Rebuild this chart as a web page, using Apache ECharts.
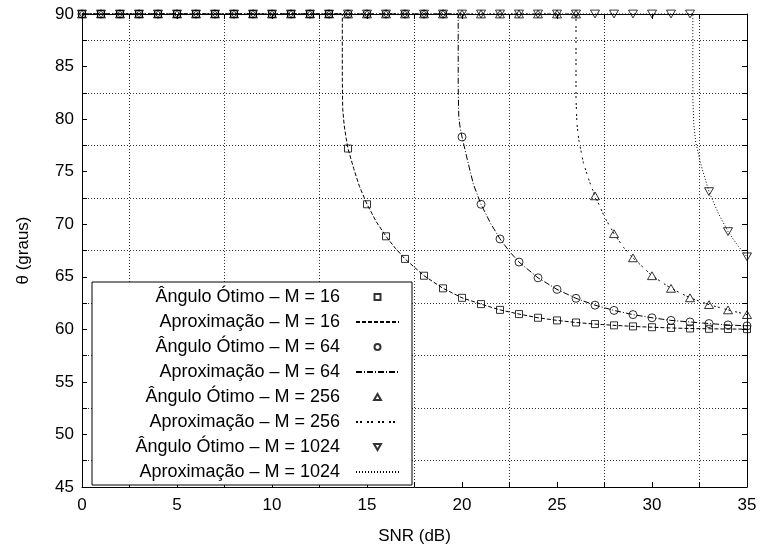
<!DOCTYPE html>
<html>
<head>
<meta charset="utf-8">
<script src="https://cdn.jsdelivr.net/npm/echarts@6/dist/echarts.min.js"></script>
<style>
  html, body { margin: 0; padding: 0; background: #fff; }
  #chart { width: 762px; height: 550px; }
</style>
</head>
<body>
<div id="chart"></div>
<script>
// SNR points of the optimal-angle markers (dB)
var snr = [0, 1, 2, 3, 4, 5, 6, 7, 8, 9, 10, 11, 12, 13, 14, 15, 16, 17,
  18, 19, 20, 21, 22, 23, 24, 25, 26, 27, 28, 29, 30, 31, 32, 33, 34, 35];

// optimal angle (graus), one value per snr point
var otimo16 = [90, 90, 90, 90, 90, 90, 90, 90, 90, 90, 90, 90, 90, 90,
  77.2, 71.9, 68.85, 66.7, 65.1, 63.9, 63.0, 62.4, 61.85, 61.45, 61.1, 60.85,
  60.65, 60.5, 60.38, 60.28, 60.2, 60.13, 60.08, 60.05, 60.03, 60.02];
var otimo64 = [90, 90, 90, 90, 90, 90, 90, 90, 90, 90, 90, 90, 90, 90,
  90, 90, 90, 90, 90, 90,
  78.3, 71.9, 68.6, 66.4, 64.9, 63.8, 62.95, 62.3, 61.8, 61.4, 61.1, 60.85,
  60.7, 60.55, 60.42, 60.33];
var otimo256 = [90, 90, 90, 90, 90, 90, 90, 90, 90, 90, 90, 90, 90, 90,
  90, 90, 90, 90, 90, 90, 90, 90, 90, 90, 90, 90, 90,
  72.7, 69.1, 66.8, 65.1, 63.9, 63.0, 62.35, 61.85, 61.4];
var otimo1024 = [90, 90, 90, 90, 90, 90, 90, 90, 90, 90, 90, 90, 90, 90,
  90, 90, 90, 90, 90, 90, 90, 90, 90, 90, 90, 90, 90, 90, 90, 90, 90, 90, 90,
  73.1, 69.3, 66.9];

// approximation curves: [snr, angle]
var aprox16 = [[0, 90], [13.7, 90], [13.7, 84], [13.72, 81], [13.8, 79.4],
  [13.9, 78.2], [14, 77.2], [14.3, 75.3], [14.6, 73.6], [15, 71.9], [15.5, 70.2],
  [16, 68.85], [16.5, 67.7], [17, 66.7], [18, 65.1], [19, 63.9], [20, 63.0],
  [21, 62.4], [22, 61.85], [23, 61.45], [24, 61.1], [25, 60.85], [26, 60.65],
  [27, 60.5], [28, 60.38], [29, 60.28], [30, 60.2], [31, 60.13], [32, 60.08],
  [33, 60.05], [34, 60.03], [35, 60.02]];
var aprox64 = [[0, 90], [19.8, 90], [19.8, 83], [19.83, 80.3], [19.9, 79.2],
  [20, 78.3], [20.3, 76], [20.6, 73.8], [21, 71.9], [21.5, 70.1], [22, 68.6],
  [22.5, 67.4], [23, 66.4], [24, 64.9], [25, 63.8], [26, 62.95], [27, 62.3],
  [28, 61.8], [29, 61.4], [30, 61.1], [31, 60.85], [32, 60.7], [33, 60.55],
  [34, 60.42], [35, 60.33]];
var aprox256 = [[0, 90], [26, 90], [26, 82], [26.05, 79.5], [26.15, 78],
  [26.38, 75.9], [26.7, 74.1], [27, 72.7], [27.5, 70.7], [28, 69.1],
  [28.5, 67.8], [29, 66.8], [30, 65.1], [31, 63.9], [32, 63.0], [33, 62.35],
  [34, 61.85], [35, 61.4]];
var aprox1024 = [[0, 90], [32.15, 90], [32.15, 82], [32.2, 79.5], [32.3, 77.8],
  [32.6, 75.5], [33, 73.1], [33.5, 71], [34, 69.3], [34.5, 68], [35, 66.9]];

var nomes = [
  "\u00c2ngulo \u00d3timo \u2013 M = 16", "Aproxima\u00e7\u00e3o \u2013 M = 16",
  "\u00c2ngulo \u00d3timo \u2013 M = 64", "Aproxima\u00e7\u00e3o \u2013 M = 64",
  "\u00c2ngulo \u00d3timo \u2013 M = 256", "Aproxima\u00e7\u00e3o \u2013 M = 256",
  "\u00c2ngulo \u00d3timo \u2013 M = 1024", "Aproxima\u00e7\u00e3o \u2013 M = 1024"
];

var fonte = "Liberation Sans";

// marker shapes as paths so the legend keeps their aspect
var quadrado = "path://M0,0L10,0L10,10L0,10Z";
var triCima = "path://M5,0L10,8.66L0,8.66Z";
var triBaixo = "path://M0,0L10,0L5,8.66Z";

function pares(ys) {
  return snr.map(function (x, i) { return [x, ys[i]]; });
}

function marcas(name, ys, symbol, size) {
  return {
    name: name,
    type: "scatter",
    data: pares(ys),
    symbol: symbol,
    symbolSize: size,
    symbolKeepAspect: true,
    clip: false,
    z: 3,
    itemStyle: { color: "rgba(0,0,0,0)", borderColor: "#000", borderWidth: 1 }
  };
}

function curva(name, pts, dash) {
  return {
    name: name,
    type: "line",
    data: pts,
    symbol: "none",
    clip: false,
    z: 2,
    itemStyle: { color: "rgba(0,0,0,0)", borderWidth: 0 },
    lineStyle: { color: "#000", width: 1, type: dash }
  };
}

var eixoX = {
  type: "value", min: 0, max: 35, interval: 5,
  axisLine: { show: true, onZero: false, lineStyle: { color: "#000", width: 1 } },
  axisTick: { show: true, inside: true, length: 5, lineStyle: { color: "#000" } },
  minorTick: { show: true, splitNumber: 2, length: 5, lineStyle: { color: "#000" } },
  splitLine: { show: false },
  minorSplitLine: { show: true, lineStyle: { color: "#333", width: 1, type: [1, 2] } },
  axisLabel: { color: "#000", fontSize: 17, fontFamily: fonte, margin: 10 }
};
var eixoY = {
  type: "value", min: 45, max: 90, interval: 5,
  axisLine: { show: true, onZero: false, lineStyle: { color: "#000", width: 1 } },
  axisTick: { show: true, inside: true, length: 5, lineStyle: { color: "#000" } },
  minorTick: { show: true, splitNumber: 2, length: 5, lineStyle: { color: "#000" } },
  splitLine: { show: false },
  minorSplitLine: { show: true, lineStyle: { color: "#333", width: 1, type: [1, 2] } },
  axisLabel: { color: "#000", fontSize: 17, fontFamily: fonte, margin: 8 }
};

var legendData = nomes.map(function (n, i) {
  return i % 2 ? { name: n, itemStyle: { opacity: 0 } } : { name: n };
});

var myChart = echarts.init(document.getElementById("chart"));
var option = {
  animation: false,
  backgroundColor: "#fff",
  textStyle: { fontFamily: fonte },
  grid: { left: 82, right: 15, top: 14, bottom: 61 },
  xAxis: [
    Object.assign({}, eixoX, {
      name: "SNR (dB)", nameLocation: "middle", nameGap: 41,
      nameTextStyle: { color: "#000", fontSize: 17, fontFamily: fonte }
    }),
    Object.assign({}, eixoX, {
      position: "top", axisLabel: { show: false }, minorSplitLine: { show: false }
    })
  ],
  yAxis: [
    Object.assign({}, eixoY, {
      name: "\u03b8 (graus)", nameLocation: "middle", nameGap: 50,
      nameTextStyle: { color: "#000", fontSize: 17, fontFamily: fonte }
    }),
    Object.assign({}, eixoY, {
      position: "right", axisLabel: { show: false }, minorSplitLine: { show: false }
    })
  ],
  graphic: [{
    type: "rect",
    shape: { x: 92, y: 282, width: 320, height: 203 },
    style: { fill: "#fff", stroke: "#000", lineWidth: 1 },
    z: 10
  }],
  legend: {
    orient: "vertical",
    align: "right",
    right: 362,
    top: 288,
    padding: 0,
    itemWidth: 43,
    itemHeight: 6,
    itemGap: 7,
    z: 11,
    data: legendData,
    textStyle: { color: "#000", fontSize: 18, lineHeight: 17, fontFamily: fonte, padding: [0, 11, 0, 0] }
  },
  series: [
    marcas(nomes[0], otimo16, quadrado, 7),
    curva(nomes[1], aprox16, [4, 2]),
    marcas(nomes[2], otimo64, "circle", 8),
    curva(nomes[3], aprox64, [6, 2, 1, 2]),
    marcas(nomes[4], otimo256, triCima, 9),
    curva(nomes[5], aprox256, [2, 2, 2, 5]),
    marcas(nomes[6], otimo1024, triBaixo, 9),
    curva(nomes[7], aprox1024, [1, 2])
  ]
};
myChart.setOption(option);
</script>
</body>
</html>
